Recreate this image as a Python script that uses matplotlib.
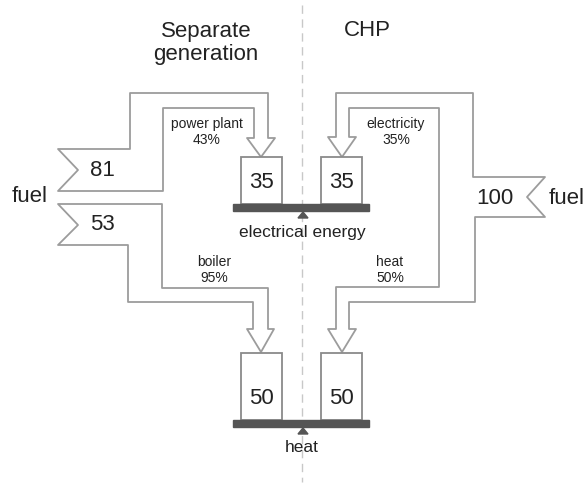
import matplotlib.pyplot as plt
from matplotlib.patches import Polygon, Rectangle

plt.rcParams['font.family'] = ['Liberation Sans', 'DejaVu Sans']

# values shown in the diagram
fuel_separate = [81, 53]          # power plant, boiler
fuel_chp = 100
out_separate = [35, 50]           # electricity, heat
out_chp = [35, 50]
eff_separate = ['power plant\n43%', 'boiler\n95%']
eff_chp = ['electricity\n35%', 'heat\n50%']
headers = ['Separate\ngeneration', 'CHP']
bar_labels = ['electrical energy', 'heat']

flow_edge = '#9c9c9c'
box_edge = '#8a8a8a'
bar_col = '#555555'
txt = '#222222'
scale = 1.35   # box height per unit of energy

fig = plt.figure(figsize=(5.85, 4.88), dpi=100)
ax = fig.add_axes([0, 0, 1, 1])
ax.set_xlim(0, 585)
ax.set_ylim(488, 0)
ax.axis('off')

# dashed divider
ax.plot([302, 302], [5, 482], color='#c8c8c8', lw=1, dashes=(6, 4), zorder=0)

def flow(pts):
    ax.add_patch(Polygon(pts, closed=True, facecolor='white', edgecolor=flow_edge,
                         lw=1.3, joinstyle='round', zorder=2))

# separate generation: fuel -> power plant
flow([(58, 149), (78, 170), (58, 191), (163, 191), (163, 108), (254, 108),
      (254, 138), (247, 138), (261, 157), (275, 138), (268, 138), (268, 93),
      (130, 93), (130, 149)])
# separate generation: fuel -> boiler
flow([(58, 204), (162, 204), (162, 288), (268, 288), (268, 329), (274, 329),
      (261, 352), (247, 329), (253, 329), (253, 302), (128, 302), (128, 245),
      (58, 245), (78, 225)])
# CHP: fuel -> electricity + heat
flow([(336, 93), (473, 93), (473, 177), (545, 177), (527, 197), (545, 217),
      (475, 217), (475, 302), (349, 302), (349, 329), (356, 329), (342, 352),
      (328, 329), (336, 329), (336, 287), (439, 287), (439, 108), (349, 108),
      (349, 137), (356, 137), (342, 157), (328, 137), (336, 137)])

# output boxes on bars
bar_tops = [204, 420]
for k, top in enumerate(bar_tops):
    ax.add_patch(Rectangle((233, top), 136, 7, color=bar_col, zorder=3))
    ax.add_patch(Polygon([(298, top + 14), (303, top + 8), (308, top + 14)],
                         color=bar_col, zorder=3))
    for x0, v in [(241, out_separate[k]), (321, out_chp[k])]:
        h = v * scale
        ax.add_patch(Rectangle((x0, top - h), 41, h, facecolor='white',
                               edgecolor=box_edge, lw=1.3, zorder=2))
        ty = top - 21 if k == 0 else top - 22
        ax.text(x0 + 20.5, ty, str(v), ha='center', va='center', fontsize=16,
                color=txt, zorder=4)
    ax.text(302, top + 28, bar_labels[k], ha='center', va='center',
            fontsize=12.5, color=txt)

# headers
ax.text(206, 43, headers[0], ha='center', va='center', fontsize=16,
        color=txt, linespacing=1.15)
ax.text(367, 30, headers[1], ha='center', va='center', fontsize=16, color=txt)

# fuel labels
ax.text(30, 196, 'fuel', ha='center', va='center', fontsize=16, color=txt)
ax.text(549, 198, 'fuel', ha='left', va='center', fontsize=16, color=txt)
ax.text(102, 170, str(fuel_separate[0]), ha='center', va='center', fontsize=16, color=txt)
ax.text(102, 225, str(fuel_separate[1]), ha='center', va='center', fontsize=16, color=txt)
ax.text(495, 198, str(fuel_chp), ha='center', va='center', fontsize=16, color=txt)

# efficiency labels
for (x, y), s in zip([(207, 132), (214, 270)], eff_separate):
    ax.text(x, y, s, ha='center', va='center', fontsize=10, color=txt,
            linespacing=1.25)
for (x, y), s in zip([(396, 132), (390, 270)], eff_chp):
    ax.text(x, y, s, ha='center', va='center', fontsize=10, color=txt,
            linespacing=1.25)

fig.savefig('out.png', dpi=100, facecolor='white')
